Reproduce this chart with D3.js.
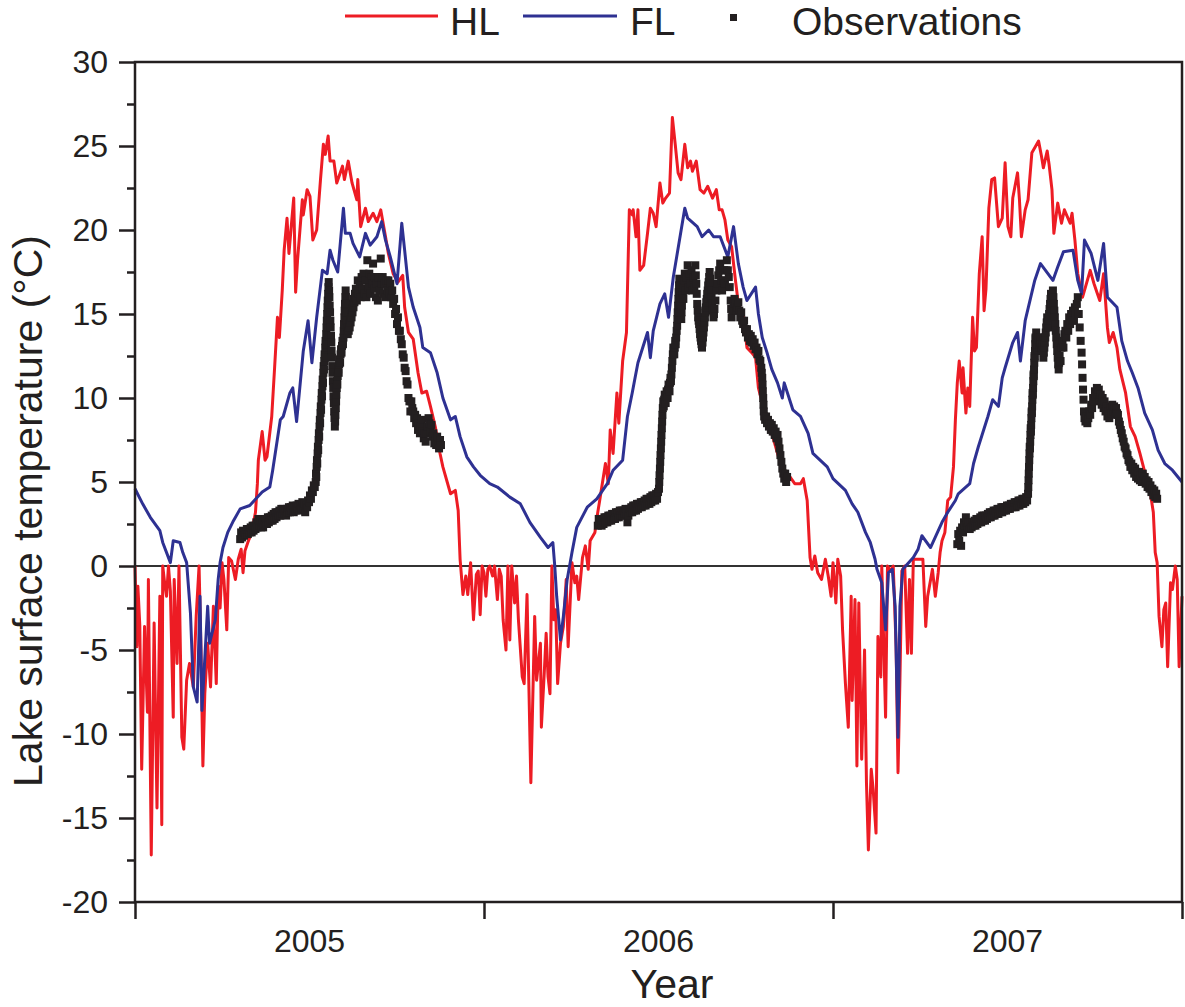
<!doctype html>
<html lang="en">
<head>
    <meta charset="UTF-8">
    <title>Lake surface temperature</title>
    <style>
        body { margin: 0; background: #fff; }
        svg text { font-family: "Liberation Sans", Arial, sans-serif; fill: #231f20; }
    </style>
</head>
<body>

<div class="canvas">
    <svg width="1185" height="1007"></svg>
</div>

<script src="https://d3js.org/d3.v7.min.js"></script>
<script>
    // day of record (0 = 1 Jan 2005), temperature in °C
    const years = ['2005', '2006', '2007'];
    const yearStarts = [0, 365, 730, 1095];
    const yTicks = [-20, -15, -10, -5, 0, 5, 10, 15, 20, 25, 30];
    const yMinorTicks = [-17.5, -12.5, -7.5, -2.5, 2.5, 7.5, 12.5, 17.5, 22.5, 27.5];

    const hl = [
        [0,0],[2,-4.8],[3,-1.2],[5,-3.5],[7,-12.1],[10,-3.6],[13,-8.7],[14,-0.8],[17,-17.2],[20,-3.4],
        [23,-14.4],[26,-1.8],[28,-15.4],[29,0],[31,-1.0],[33,-1.8],[35,0],[37,-1.5],[40,-9.0],[41,-0.8],
        [44,-5.8],[46,0],[49,-10.2],[51,-10.9],[54,-6.8],[57,-5.8],[61,-7.2],[64,-3.0],[67,0],[69,-5.0],
        [71,-11.9],[73,-7.6],[76,-4.6],[79,-7.2],[82,-2.4],[85,-7.0],[87,-1.2],[89,-2.5],[91,0.2],[93,-0.8],
        [96,-3.8],[98,0.5],[101,0.3],[105,-0.8],[108,0.4],[111,1.0],[113,-0.4],[115,0.9],[118,1.4],[122,2.0],
        [126,3.2],[128,4.9],[129,6.3],[133,8.0],[136,6.3],[138,6.5],[143,8.9],[146,11.8],[149,14.8],[151,13.6],
        [154,16.4],[156,18.8],[159,20.7],[161,18.6],[164,20.6],[166,21.9],[168,16.3],[170,18.2],[175,21.8],[176,20.9],
        [180,22.4],[183,22.0],[186,19.4],[190,20.0],[194,23.0],[197,25.1],[199,24.5],[202,25.6],[204,24.1],[208,24.1],
        [211,22.8],[217,23.8],[219,23.0],[223,24.1],[227,22.8],[232,21.8],[233,23.0],[236,20.2],[241,21.3],[244,20.5],
        [249,21.0],[253,20.5],[257,21.2],[262,19.6],[265,18.6],[270,17.4],[275,16.9],[280,17.3],[282,15.4],[286,13.9],
        [291,13.5],[296,11.5],[300,10.3],[305,10.4],[309,9.5],[314,8.3],[319,6.7],[322,5.9],[330,4.3],[335,4.5],
        [338,3.3],[340,0.4],[343,-1.7],[346,-0.6],[348,-1.7],[351,0.2],[354,-3.2],[357,-0.5],[359,-0.3],[361,-2.9],
        [363,0],[365,-0.4],[367,-1.8],[369,-0.2],[371,0],[374,-0.6],[376,0],[379,-2.0],[381,-0.2],[383,-0.6],
        [385,-3.2],[388,-5.0],[390,0],[392,-4.4],[394,0],[397,-2.2],[399,-0.6],[401,-3.2],[405,-6.6],[407,-7.0],
        [410,-1.7],[414,-12.9],[418,-3.0],[420,-6.8],[424,-4.6],[425,-9.6],[428,-6.4],[430,-4.0],[432,-6.6],[434,-7.6],
        [436,0],[438,-3.2],[440,-2.6],[442,-7.0],[445,-4.6],[448,-3.6],[451,-0.8],[453,-4.8],[457,0.2],[460,-1.0],
        [462,-0.6],[464,-2.0],[468,0.5],[471,1.2],[474,-0.2],[476,1.5],[481,2.0],[484,3.2],[486,3.9],[492,6.1],
        [495,4.9],[497,8.1],[500,6.7],[504,10.3],[506,8.5],[510,12.2],[514,13.9],[517,21.2],[520,20.9],[521,21.2],
        [524,19.6],[526,21.2],[528,17.6],[532,17.9],[536,19.8],[539,21.3],[542,21.0],[545,20.2],[549,22.8],[552,21.6],
        [555,21.9],[559,22.2],[562,26.7],[565,25.1],[568,23.4],[571,23.0],[575,25.1],[578,23.7],[581,24.1],[583,23.5],
        [587,24.1],[591,22.4],[595,22.2],[599,22.6],[604,21.9],[608,22.4],[611,21.2],[614,21.2],[617,20.6],[620,19.4],
        [624,19.0],[628,17.0],[631,15.6],[636,15.0],[640,13.0],[645,12.7],[649,12.4],[652,10.6],[656,9.7],[661,8.7],
        [667,7.7],[673,6.5],[678,5.7],[685,5.3],[690,4.9],[696,4.9],[699,5.2],[703,3.9],[706,0.5],[708,-0.2],
        [711,0.6],[714,-0.4],[718,-0.8],[722,0.4],[725,-0.6],[728,-1.8],[730,0.2],[733,-2.2],[735,0.4],[738,-0.6],
        [740,-3.8],[743,-7.0],[746,-9.6],[749,-1.8],[750,-8.0],[753,-2.0],[755,-11.9],[757,-2.2],[760,-11.5],[763,-5.0],
        [765,-12.9],[767,-16.9],[770,-12.1],[772,-13.3],[775,-15.9],[777,-4.2],[780,-6.6],[781,0],[785,-9.0],[787,0],
        [790,-0.3],[793,0],[796,-4.8],[798,-12.3],[800,-6.8],[802,-0.3],[805,0],[808,-5.2],[810,-0.8],[812,-5.2],
        [814,0.4],[819,0.4],[824,0.4],[827,-3.6],[829,-1.8],[834,-0.2],[837,-1.8],[840,-0.4],[842,0.8],[844,1.5],
        [847,2.0],[850,3.9],[853,4.1],[856,5.9],[858,8.7],[860,10.9],[862,12.2],[865,10.3],[866,11.8],[869,9.1],
        [871,10.6],[873,9.5],[876,14.8],[878,12.8],[880,13.0],[883,17.4],[886,19.6],[888,15.2],[890,16.5],[893,21.3],
        [896,23.0],[899,23.1],[903,20.2],[907,20.7],[910,24.0],[913,20.2],[916,19.6],[918,21.9],[923,23.4],[925,21.8],
        [927,19.6],[931,21.2],[934,21.8],[938,24.6],[941,24.9],[945,25.3],[948,24.4],[950,23.7],[954,24.7],[956,23.9],
        [959,22.4],[961,19.8],[965,21.6],[969,20.4],[972,21.2],[978,20.4],[980,21.0],[983,19.4],[986,17.4],[991,16.0],
        [994,16.6],[999,17.6],[1003,16.8],[1006,16.3],[1009,15.8],[1013,17.4],[1017,14.2],[1019,13.3],[1023,13.9],[1027,13.0],
        [1030,11.7],[1036,10.3],[1041,8.3],[1046,7.7],[1051,6.7],[1056,5.6],[1062,4.3],[1065,3.2],[1067,0.8],[1069,0.2],
        [1071,-3.0],[1074,-4.8],[1076,-2.6],[1078,-2.2],[1080,-6.0],[1083,-1.0],[1085,-1.4],[1088,0],[1090,-0.8],[1092,-6.0],
        [1095,-1.8]
    ];

    const fl = [
        [0,4.6],[8,3.7],[16,2.9],[26,2.1],[29,1.4],[37,0.2],[40,1.5],[47,1.4],[50,0.8],[54,0.2],
        [58,-2.8],[61,-7.2],[65,-8.1],[68,-1.8],[70,-8.6],[76,-2.4],[78,-4.6],[84,-3.2],[87,-0.8],[89,0.2],
        [92,1.1],[97,2.0],[103,2.7],[110,3.4],[120,3.6],[133,4.4],[141,4.7],[144,5.7],[152,8.7],[155,8.9],
        [162,10.3],[165,10.6],[169,8.6],[176,12.8],[181,14.6],[185,12.1],[190,14.8],[196,17.6],[201,17.4],[204,18.8],
        [207,18.2],[212,17.5],[218,21.3],[220,19.8],[225,19.8],[228,19.2],[235,18.4],[241,19.8],[246,19.1],[253,19.6],
        [258,20.5],[262,19.4],[267,18.4],[274,16.8],[279,20.4],[282,18.8],[286,16.6],[291,15.4],[298,14.2],[301,13.0],
        [309,12.7],[316,11.5],[322,10.0],[330,8.7],[335,8.9],[340,7.7],[347,6.5],[354,5.9],[361,5.4],[371,4.9],
        [379,4.7],[392,4.1],[403,3.7],[413,2.6],[424,1.7],[432,1.1],[437,1.4],[439,0.0],[441,-1.8],[445,-4.4],
        [448,-3.0],[452,-0.8],[457,0.8],[462,2.3],[473,3.5],[483,4.0],[494,4.9],[500,5.7],[510,6.3],[515,8.9],
        [520,10.3],[523,11.2],[526,12.1],[536,13.9],[539,12.4],[542,14.0],[549,15.6],[554,16.2],[558,14.8],[563,17.2],
        [575,21.3],[578,20.7],[588,20.2],[593,19.6],[600,20.0],[605,19.6],[612,19.6],[620,18.4],[626,20.2],[631,18.0],
        [636,16.6],[640,15.8],[649,16.6],[652,15.0],[656,13.6],[661,12.7],[666,11.7],[672,10.9],[677,10.0],[679,10.9],
        [688,9.3],[696,8.9],[704,7.9],[709,6.7],[724,5.9],[730,5.2],[743,4.5],[750,3.7],[756,3.2],[764,2.0],
        [769,1.4],[774,0.4],[776,-0.2],[781,-1.0],[785,-3.8],[788,-0.4],[792,-0.2],[795,-2.4],[798,-10.2],[800,-2.4],
        [803,-0.2],[814,0.5],[819,1.0],[823,1.8],[832,1.1],[844,2.6],[850,3.2],[858,3.9],[861,4.3],[873,4.9],
        [877,6.1],[882,7.1],[892,8.9],[897,9.9],[903,9.5],[907,11.2],[910,11.8],[918,13.3],[923,13.9],[926,12.2],
        [931,14.6],[941,17.0],[947,18.0],[960,17.0],[965,17.8],[971,18.7],[981,18.8],[986,17.0],[990,16.2],[993,19.4],
        [1000,18.6],[1007,17.0],[1013,19.2],[1017,16.0],[1027,15.4],[1032,13.4],[1038,12.2],[1043,11.5],[1049,10.6],[1056,9.1],
        [1064,8.1],[1070,6.9],[1077,6.1],[1085,5.7],[1095,5.0]
    ];

    const obs2005 = [
        [110,1.6],[111,2.0],[112,1.7],[113,2.1],[114,1.8],[115,2.0],[116,1.9],[117,2.2],[118,1.9],[119,2.2],
        [120,2.0],[121,2.3],[122,2.0],[123,2.4],[124,2.1],[125,2.4],[126,2.2],[127,2.6],[128,2.3],[129,2.8],
        [130,2.4],[131,2.7],[132,2.3],[133,2.6],[134,2.3],[135,2.7],[136,2.5],[137,2.8],[138,2.5],[139,2.9],
        [140,2.6],[141,2.9],[142,2.7],[143,3.0],[144,2.7],[145,3.1],[146,2.8],[147,3.2],[148,2.9],[149,3.2],
        [150,3.0],[151,3.3],[152,3.0],[153,3.4],[154,3.1],[155,3.4],[156,3.1],[157,3.3],[158,3.0],[159,3.4],
        [160,3.2],[161,3.5],[162,3.2],[163,3.5],[164,3.3],[165,3.6],[166,3.2],[167,3.5],[168,3.3],[169,3.6],
        [170,3.4],[171,3.7],[172,3.3],[173,3.6],[174,3.4],[175,3.8],[176,3.4],[177,3.7],[178,3.2],[179,3.6],
        [180,3.5],[181,3.9],[182,3.8],[183,4.2],[184,4.0],[185,4.5],[186,4.4],[187,4.8],[188,4.7],[189,5.0],
        [189.3,5.5],[189.6,5.3],[190,5.9],[190.3,6.3],[190.6,6.1],[191,6.7],[191.3,7.1],[191.6,6.9],[192,7.5],[192.3,7.9],
        [192.6,7.7],[193,8.3],[193.3,8.7],[193.6,8.5],[194,9.1],[194.3,9.5],[194.6,9.3],[195,9.9],[195.3,10.3],[195.6,10.1],
        [196,10.7],[196.3,11.1],[196.6,10.9],[197,11.5],[197.3,11.9],[197.6,11.7],[198,12.2],[198.3,12.6],[198.6,12.4],[199,13.0],
        [199.3,13.4],[199.6,13.2],[200,13.8],[200.3,14.2],[200.6,14.6],[201,15.0],[201.3,15.4],[201.6,15.8],[202,16.2],[202.3,16.6],
        [202.6,16.9],[203,16.4],[203.3,16.0],[203.6,15.5],[204,15.1],[204.3,14.6],[204.6,14.2],[205,13.7],[205.3,13.3],[205.6,12.8],
        [206,12.4],[206.3,11.9],[206.6,11.5],[207,11.0],[207.3,10.6],[207.6,10.1],[208,9.7],[208.3,9.2],[208.6,8.8],[209,8.3],
        [209.3,8.6],[209.6,9.0],[210,9.4],[210.3,9.8],[210.6,10.2],[211,10.6],[211.3,11.0],[211.6,10.8],[212,11.3],[212.5,11.7],
        [213,11.5],[213.5,12.0],[214,12.3],[214.5,12.1],[215,12.6],[215.5,12.9],[216,12.7],[216.5,13.1],[217,13.4],[217.5,13.2],
        [218,13.6],[218.3,14.0],[218.6,14.4],[219,14.8],[219.3,15.2],[219.6,15.6],[220,16.0],[220.3,16.4],[220.6,16.0],[221,15.6],
        [221.3,15.1],[221.6,14.6],[222,14.2],[222.5,13.8],[223,14.2],[223.5,14.0],[224,14.4],[224.5,14.2],[225,14.7],[225.5,14.5],
        [226,15.0],[226.5,14.8],[227,15.3],[227.5,15.1],[228,15.6],[228.5,15.4],[229,15.9],[229.5,15.7],[230,16.2],[230.5,16.0],
        [231,16.5],[232,15.8],[233,17.0],[234,16.2],[235,16.8],[236,16.0],[237,17.2],[238,16.5],[239,17.4],[240,16.2],
        [241,17.0],[242,16.0],[243,18.2],[244,16.6],[245,17.4],[246,16.2],[247,17.2],[248,16.8],[249,18.0],[250,16.5],
        [251,17.2],[252,16.0],[253,16.8],[254,15.8],[255,17.2],[256,16.4],[257,18.3],[258,16.8],[259,17.2],[260,16.2],
        [261,16.8],[262,16.0],[263,17.0],[264,16.4],[265,17.0],[266,16.2],[267,16.8],[268,16.0],[269,16.4],[270,15.6],
        [271,15.9],[272,15.0],[273,15.3],[274,14.4],[275,14.8],[276,14.0],[277,14.0],[278,13.5],[279,13.2],[280,12.6],
        [281,12.4],[282,11.8],[283,11.6],[284,11.0],[285,10.8],[286,10.0],[287,9.8],[288,9.2],[289,9.8],[290,9.4],
        [291,9.2],[292,8.8],[293,9.0],[294,8.5],[295,8.8],[296,8.1],[297,8.5],[298,7.9],[299,8.3],[300,8.7],
        [301,8.0],[302,7.6],[303,7.9],[304,7.4],[305,7.9],[306,8.3],[307,8.8],[308,8.5],[309,8.0],[310,8.4],
        [311,7.7],[312,7.9],[313,7.3],[314,7.5],[315,7.2],[316,7.7],[317,7.2],[318,7.0],[319,7.5],[320,7.2]
    ];

    const obs2006 = [
        [484,2.4],[485,2.8],[486,2.5],[487,2.8],[488,2.4],[489,2.7],[490,2.5],[491,2.9],[492,2.6],[493,2.9],
        [494,2.6],[495,3.0],[496,2.7],[497,3.0],[498,2.7],[499,3.1],[500,2.8],[501,3.1],[502,2.8],[503,3.2],
        [504,2.9],[505,3.2],[506,2.9],[507,3.3],[508,3.0],[509,3.3],[510,3.0],[511,3.3],[512,3.1],[513,3.4],
        [514,3.1],[515,2.6],[516,3.0],[517,3.4],[518,3.2],[519,3.5],[520,3.2],[521,3.6],[522,3.3],[523,3.6],
        [524,3.3],[525,3.7],[526,3.4],[527,3.7],[528,3.5],[529,3.8],[530,3.5],[531,3.8],[532,3.6],[533,3.9],
        [534,3.6],[535,4.0],[536,3.7],[537,4.0],[538,3.7],[539,4.1],[540,3.8],[541,4.2],[542,3.9],[543,4.2],
        [544,3.9],[545,4.3],[546,4.0],[547,4.4],[548,4.6],[548.3,5.0],[548.6,5.4],[549,5.8],[549.3,6.2],[549.6,6.6],
        [550,7.0],[550.3,7.4],[550.6,7.8],[551,8.2],[551.3,8.6],[551.6,9.0],[552,9.4],[552.5,9.8],[553,9.5],[553.5,9.9],
        [554,10.2],[554.5,10.0],[555,9.7],[555.5,10.1],[556,10.4],[556.5,10.2],[557,10.0],[557.5,10.5],[558,10.8],[558.5,10.6],
        [559,10.4],[559.5,10.9],[560,11.2],[560.5,11.0],[561,11.4],[561.5,11.8],[562,12.2],[562.5,12.6],[563,13.0],[563.5,12.8],
        [564,12.6],[564.5,13.0],[565,13.4],[565.5,13.2],[566,13.6],[566.5,14.0],[567,14.3],[567.3,14.7],[567.6,15.1],[568,15.5],
        [568.3,15.9],[568.6,16.3],[569,16.7],[569.3,17.1],[569.6,16.7],[570,16.3],[570.3,15.9],[570.6,15.5],[571,15.1],[571.3,14.7],
        [571.6,15.1],[572,15.5],[572.5,15.9],[573,16.3],[573.5,15.9],[574,16.6],[574.5,17.0],[575,17.4],[576,16.4],[577,17.2],
        [578,17.9],[579,16.6],[580,17.4],[581,16.8],[582,17.6],[583,16.4],[584,17.2],[585,16.6],[586,17.9],[586.5,17.3],
        [587,16.8],[587.5,16.2],[588,15.6],[588.5,15.2],[589,14.8],[589.5,14.6],[590,14.4],[590.5,14.1],[591,13.8],[591.5,13.6],
        [592,13.4],[592.5,13.2],[593,13.0],[593.5,13.3],[594,13.6],[594.5,13.9],[595,14.2],[595.5,14.5],[596,14.8],[596.5,15.1],
        [597,15.4],[597.5,15.7],[598,15.9],[598.5,16.2],[599,16.4],[599.5,16.7],[600,16.9],[600.5,17.2],[601,17.5],[601.5,17.1],
        [602,16.8],[602.5,16.4],[603,16.0],[603.5,15.6],[604,15.2],[605,14.8],[605.5,15.0],[606,15.3],[607,15.8],[608,16.4],
        [609,16.8],[610,17.3],[611,17.6],[612,18.0],[613,17.0],[614,16.4],[615,17.0],[616,17.6],[617,16.8],[618,17.6],
        [619,18.2],[620,17.6],[621,17.2],[622,16.6],[623,15.8],[623.5,15.3],[624,14.8],[625,15.2],[626,15.6],[627,15.9],
        [628,15.6],[629,15.2],[630,15.4],[631,15.7],[632,15.2],[633,14.8],[634,15.1],[635,14.6],[636,14.4],[637,14.6],
        [638,14.1],[639,13.9],[640,14.1],[641,13.6],[642,13.8],[643,13.4],[644,13.7],[645,13.3],[646,13.5],[647,13.1],
        [648,13.3],[649,12.9],[650,13.0],[651,12.6],[652,12.8],[653,12.3],[654,12.2],[655,11.8],[655.5,11.5],[656,11.2],
        [656.3,10.8],[656.6,10.4],[657,10.0],[657.3,9.6],[657.6,9.2],[658,8.9],[659,8.7],[660,8.9],[661,8.5],[662,8.7],
        [663,8.3],[664,8.5],[665,8.1],[666,8.4],[667,8.0],[668,8.2],[669,7.8],[670,8.0],[671,7.6],[672,7.8],
        [673,7.4],[674,7.0],[675,6.6],[676,6.2],[677,5.8],[678,5.5],[679,5.2],[680,5.5],[681,5.0],[682,5.3]
    ];

    const obs2007 = [
        [860,1.3],[861,1.9],[862,1.5],[863,2.1],[864,1.2],[865,2.3],[866,2.0],[867,2.6],[868,2.4],[869,2.9],
        [870,2.6],[871,2.3],[872,2.6],[873,2.2],[874,2.5],[875,2.3],[876,2.6],[877,2.4],[878,2.7],[879,2.4],
        [880,2.8],[881,2.5],[882,2.8],[883,2.6],[884,2.9],[885,2.6],[886,3.0],[887,2.7],[888,3.0],[889,2.7],
        [890,3.0],[891,2.8],[892,3.1],[893,2.9],[894,3.2],[895,2.9],[896,3.2],[897,3.0],[898,3.3],[899,3.0],
        [900,3.3],[901,3.1],[902,3.4],[903,3.1],[904,3.4],[905,3.2],[906,3.5],[907,3.2],[908,3.5],[909,3.3],
        [910,3.5],[911,3.3],[912,3.6],[913,3.4],[914,3.6],[915,3.4],[916,3.7],[917,3.5],[918,3.7],[919,3.5],
        [920,3.8],[921,3.5],[922,3.8],[923,3.6],[924,3.9],[925,3.6],[926,3.9],[927,3.7],[928,4.0],[929,3.7],
        [930,4.0],[931,3.8],[932,4.1],[933,3.9],[934,4.3],[934.25,4.7],[934.5,5.1],[934.75,5.5],[935,5.9],[935.25,6.3],
        [935.5,6.7],[935.75,7.1],[936,7.0],[936.25,7.4],[936.5,7.8],[936.75,8.2],[937,8.0],[937.25,8.4],[937.5,8.8],[937.75,9.2],
        [938,9.1],[938.25,9.5],[938.5,9.9],[938.75,10.3],[939,10.2],[939.25,10.6],[939.5,11.0],[939.75,11.4],[940,11.3],[940.25,11.7],
        [940.5,12.1],[940.75,12.5],[941,12.4],[941.25,12.8],[941.5,13.2],[941.75,13.6],[942,13.5],[942.5,13.9],[943,13.3],[943.5,12.9],
        [944,13.2],[944.5,13.5],[945,13.6],[945.5,13.2],[946,13.0],[946.5,13.3],[947,13.6],[947.5,13.2],[948,12.8],[948.5,13.0],
        [949,13.2],[949.5,12.8],[950,12.4],[950.5,12.7],[951,13.0],[951.5,13.3],[952,13.6],[952.5,13.9],[953,14.2],[953.5,14.5],
        [954,14.8],[954.5,14.5],[955,14.2],[955.5,14.6],[956,15.0],[956.5,15.3],[957,15.6],[957.5,15.9],[958,16.2],[958.5,15.9],
        [959,15.6],[959.5,16.0],[960,16.4],[960.5,16.0],[961,15.6],[961.5,15.2],[962,14.8],[962.5,14.4],[963,14.0],[963.5,13.6],
        [964,13.2],[964.5,12.8],[965,12.4],[965.5,12.0],[966,11.7],[966.5,12.1],[967,12.5],[968,12.2],[969,13.0],[970,13.4],
        [971,13.0],[972,13.8],[973,14.0],[974,13.6],[975,14.4],[976,14.0],[977,14.8],[978,14.4],[979,15.0],[980,14.6],
        [981,15.2],[982,14.6],[983,15.4],[984,15.0],[985,15.6],[986,16.0],[987,15.0],[988,14.2],[989,13.4],[990,12.7],
        [990.5,12.0],[991,11.2],[991.5,10.5],[992,9.9],[992.5,9.2],[993,8.8],[994,8.6],[995,8.9],[996,8.5],[997,8.8],
        [998,9.2],[999,9.0],[1000,9.6],[1001,9.4],[1002,10.0],[1003,9.8],[1004,10.4],[1005,10.1],[1006,10.6],[1007,10.2],
        [1008,10.5],[1009,9.9],[1010,10.2],[1011,9.6],[1012,10.0],[1013,9.4],[1014,9.8],[1015,9.2],[1016,9.5],[1017,8.9],
        [1018,9.2],[1019,8.8],[1020,9.4],[1021,9.1],[1022,9.6],[1023,9.2],[1024,9.5],[1025,9.0],[1026,9.4],[1027,9.1],
        [1028,9.0],[1029,8.6],[1030,8.4],[1031,8.1],[1032,7.9],[1033,7.6],[1034,7.4],[1035,7.1],[1036,7.0],[1037,6.7],
        [1038,6.6],[1039,6.3],[1040,6.2],[1041,5.9],[1042,6.1],[1043,5.7],[1044,5.9],[1045,5.5],[1046,5.8],[1047,5.3],
        [1048,5.6],[1049,5.2],[1050,5.6],[1051,5.1],[1052,5.4],[1053,5.0],[1054,5.5],[1055,5.1],[1056,5.3],[1057,4.9],
        [1058,5.1],[1059,4.7],[1060,5.0],[1061,4.6],[1062,4.8],[1063,4.4],[1064,4.6],[1065,4.2],[1066,4.5],[1067,4.1],
        [1068,4.3],[1069,4.0]
    ];

    const obs = obs2005.concat(obs2006, obs2007);

    const ink = '#231f20';
    const red = '#ed1c24';
    const blue = '#2e3192';

    const svg = d3.select('.canvas svg');
    const plotLeft = 135, plotRight = 1182, plotTop = 62, plotBottom = 902;

    const x = d3.scaleLinear().domain([0, 1095]).range([plotLeft, plotRight]);
    const y = d3.scaleLinear().domain([-20, 30]).range([plotBottom, plotTop]);

    // zero line
    svg.append('line')
        .attr('x1', plotLeft).attr('x2', plotRight)
        .attr('y1', y(0)).attr('y2', y(0))
        .attr('stroke', '#333').attr('stroke-width', 2);

    const line = d3.line()
        .x(d => x(d[0]))
        .y(d => y(d[1]));

    svg.append('path')
        .datum(hl)
        .attr('d', line)
        .attr('fill', 'none')
        .attr('stroke', red)
        .attr('stroke-width', 3)
        .attr('stroke-linejoin', 'round');

    svg.append('path')
        .datum(fl)
        .attr('d', line)
        .attr('fill', 'none')
        .attr('stroke', blue)
        .attr('stroke-width', 3)
        .attr('stroke-linejoin', 'round');

    const sq = 8;
    svg.append('g')
        .selectAll('rect')
        .data(obs)
        .enter()
        .append('rect')
        .attr('x', d => x(d[0]) - sq / 2)
        .attr('y', d => y(d[1]) - sq / 2)
        .attr('width', sq)
        .attr('height', sq)
        .attr('fill', ink);

    // axes
    const yAxis = d3.axisLeft(y)
        .tickValues(yTicks)
        .tickSize(16)
        .tickPadding(11)
        .tickFormat(d => String(d));
    const gy = svg.append('g')
        .attr('transform', `translate(${plotLeft},0)`)
        .call(yAxis);
    gy.select('.domain').remove();
    gy.selectAll('line').attr('stroke', ink).attr('stroke-width', 2.5);
    gy.selectAll('text')
        .attr('font-size', 32)
        .attr('fill', ink)
        .style('font-family', '"Liberation Sans", Arial, sans-serif');

    const gyMinor = svg.append('g')
        .attr('transform', `translate(${plotLeft},0)`)
        .call(d3.axisLeft(y).tickValues(yMinorTicks).tickSize(8).tickFormat(''));
    gyMinor.select('.domain').remove();
    gyMinor.selectAll('line').attr('stroke', ink).attr('stroke-width', 2.5);

    const gx = svg.append('g')
        .attr('transform', `translate(0,${plotBottom})`)
        .call(d3.axisBottom(x).tickValues(yearStarts).tickSize(17).tickFormat(''));
    gx.select('.domain').remove();
    gx.selectAll('line').attr('stroke', ink).attr('stroke-width', 2.5);

    svg.append('g')
        .selectAll('text')
        .data(years)
        .enter()
        .append('text')
        .attr('x', (d, i) => x((yearStarts[i] + yearStarts[i + 1]) / 2))
        .attr('y', 952)
        .attr('text-anchor', 'middle')
        .attr('font-size', 32)
        .text(d => d);

    // frame
    svg.append('rect')
        .attr('x', plotLeft).attr('y', plotTop)
        .attr('width', plotRight - plotLeft).attr('height', plotBottom - plotTop)
        .attr('fill', 'none')
        .attr('stroke', ink)
        .attr('stroke-width', 2.5);

    // titles
    svg.append('text')
        .attr('transform', 'translate(42,511) rotate(-90)')
        .attr('text-anchor', 'middle')
        .attr('font-size', 41)
        .text('Lake surface temperature (°C)');

    svg.append('text')
        .attr('x', 672)
        .attr('y', 998)
        .attr('text-anchor', 'middle')
        .attr('font-size', 41)
        .text('Year');

    // legend
    const legend = svg.append('g');
    legend.append('line')
        .attr('x1', 345).attr('x2', 438).attr('y1', 16).attr('y2', 16)
        .attr('stroke', red).attr('stroke-width', 3);
    legend.append('text')
        .attr('x', 450).attr('y', 35).attr('font-size', 39).text('HL');
    legend.append('line')
        .attr('x1', 523).attr('x2', 617).attr('y1', 16).attr('y2', 16)
        .attr('stroke', blue).attr('stroke-width', 3);
    legend.append('text')
        .attr('x', 630).attr('y', 35).attr('font-size', 39).text('FL');
    legend.append('rect')
        .attr('x', 730).attr('y', 14).attr('width', 7).attr('height', 7)
        .attr('fill', ink);
    legend.append('text')
        .attr('x', 792).attr('y', 35).attr('font-size', 39).text('Observations');
</script>
</body>
</html>
